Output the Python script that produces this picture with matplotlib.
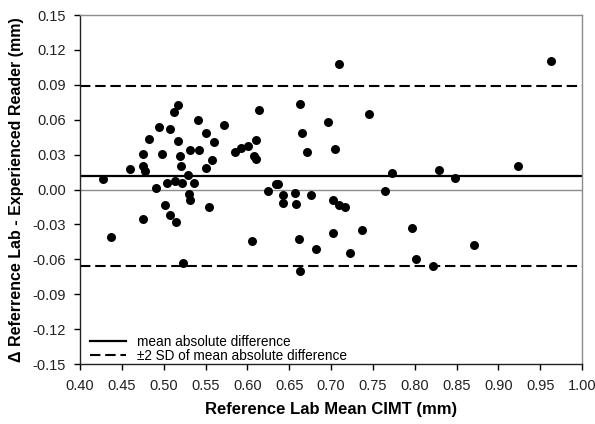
import matplotlib
matplotlib.use("Agg")
import matplotlib.pyplot as plt
import numpy as np
from matplotlib.lines import Line2D

plt.rcParams['font.family'] = ['Liberation Sans', 'DejaVu Sans']

# Bland-Altman data: x = reference lab mean CIMT (mm), y = difference (mm)
x_vals = [0.428, 0.437, 0.460, 0.475, 0.478, 0.475, 0.4826, 0.4942, 0.498, 0.5074,
          0.5126, 0.5174, 0.517, 0.5194, 0.521, 0.532, 0.542, 0.541, 0.551, 0.5505,
          0.5285, 0.514, 0.5225, 0.5045, 0.5357, 0.491, 0.5305, 0.531, 0.5018, 0.5074,
          0.475, 0.5153, 0.5237, 0.554, 0.606, 0.5717, 0.560, 0.558, 0.585, 0.592,
          0.601, 0.610, 0.6084, 0.610, 0.6135,
          0.7094, 0.6627, 0.7453, 0.6966, 0.6655, 0.671, 0.7046, 0.773, 0.8287, 0.848,
          0.923, 0.963, 0.634, 0.637, 0.6247, 0.6427, 0.6427, 0.657, 0.6587, 0.676,
          0.765, 0.702, 0.7098, 0.7166, 0.6614, 0.6818, 0.7018, 0.7365, 0.723, 0.6635,
          0.7964, 0.8016, 0.822, 0.8715]
y_vals = [0.0086, -0.0409, 0.018, 0.0206, 0.0163, 0.0306, 0.0431, 0.0537, 0.0306, 0.052,
          0.0663, 0.0726, 0.0417, 0.0289, 0.0203, 0.0337, 0.0337, 0.0594, 0.0486, 0.0183,
          0.0126, 0.0077, 0.0057, 0.0057, 0.0057, 0.001, -0.0037, -0.0094, -0.0137, -0.0223,
          -0.0251, -0.028, -0.0634, -0.0154, -0.0443, 0.0557, 0.041, 0.0251, 0.0323, 0.0354,
          0.0377, 0.0429, 0.029, 0.0263, 0.068,
          0.108, 0.0734, 0.0645, 0.0577, 0.0489, 0.0323, 0.0346, 0.0143, 0.0169, 0.010,
          0.0206, 0.1108, 0.0043, 0.0049, -0.0016, -0.005, -0.0115, -0.0033, -0.0123, -0.005,
          -0.0009, -0.009, -0.0131, -0.0151, -0.0423, -0.0509, -0.0374, -0.0349, -0.0549, -0.070,
          -0.0329, -0.0594, -0.066, -0.0477]

mean_diff = 0.0112
upper_limit = 0.0887
lower_limit = -0.0660

x_ticks = [0.40, 0.45, 0.50, 0.55, 0.60, 0.65, 0.70, 0.75, 0.80, 0.85, 0.90, 0.95, 1.00]
y_ticks = [0.15, 0.12, 0.09, 0.06, 0.03, 0.00, -0.03, -0.06, -0.09, -0.12, -0.15]

fig = plt.figure(figsize=(5.95, 4.24), dpi=100)
ax = fig.add_axes([80/595, 1-364/424, (582-80)/595, (364-15)/424])

DASH = (5, 2.3)
ax.axhline(0.0, color='#8c8c8c', lw=1.0, zorder=1)
ax.axhline(mean_diff, color='black', lw=1.6, zorder=2)
ax.axhline(upper_limit, color='black', lw=1.5, dashes=DASH, zorder=2)
ax.axhline(lower_limit, color='black', lw=1.5, dashes=DASH, zorder=2)

ax.scatter(x_vals, y_vals, s=42, color='black', zorder=3, linewidths=0)

ax.set_xlim(0.40, 1.00)
ax.set_ylim(-0.15, 0.15)
ax.set_xticks(x_ticks)
ax.set_yticks(y_ticks)
ax.set_xticklabels([f"{v:.2f}" for v in x_ticks])
ax.set_yticklabels([f"{v:.2f}" for v in y_ticks])
ax.tick_params(axis='both', direction='out', length=4, width=1, labelsize=10.5,
               colors='black', labelcolor='#222222', pad=6)
ax.tick_params(axis='x', pad=7)

for side in ['top', 'right']:
    ax.spines[side].set_color('#8c8c8c')
    ax.spines[side].set_linewidth(1.0)
for side in ['left', 'bottom']:
    ax.spines[side].set_color('#222222')
    ax.spines[side].set_linewidth(1.0)

ax.set_xlabel('Reference Lab Mean CIMT (mm)', fontsize=12, fontweight='bold', labelpad=6)
ax.set_ylabel('\u0394 Referrence Lab - Experienced Reader (mm)', fontsize=11.5,
              fontweight='bold', labelpad=6)

handles = [Line2D([0], [0], color='black', lw=1.6),
           Line2D([0], [0], color='black', lw=1.5, dashes=DASH)]
ax.legend(handles, ['mean absolute difference', '\u00b12 SD of mean absolute difference'],
          loc='lower left', frameon=False, fontsize=9.8, handlelength=2.6,
          borderaxespad=0.0, labelspacing=0.0, handletextpad=0.8,
          bbox_to_anchor=(0.01, -0.012))

fig.savefig('out.png', dpi=100)
